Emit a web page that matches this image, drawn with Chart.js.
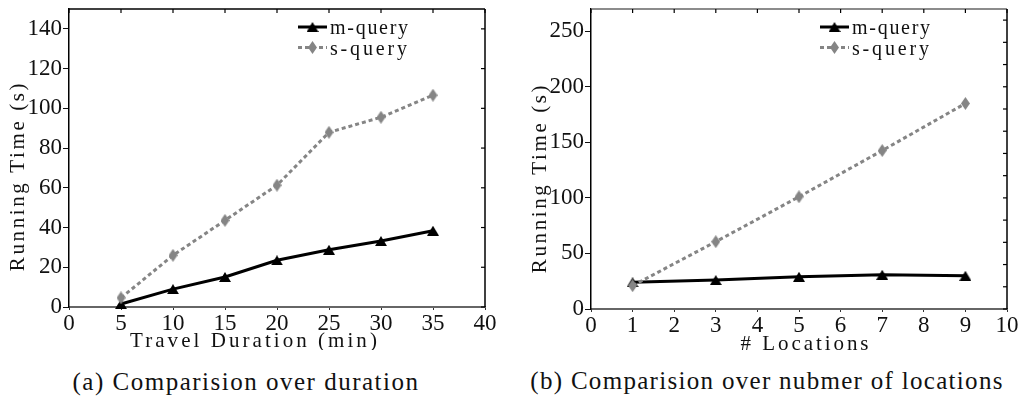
<!DOCTYPE html>
<html><head><meta charset="utf-8">
<script src="https://cdn.jsdelivr.net/npm/chart.js@4.4.1/dist/chart.umd.min.js"></script>
<style>
html,body{margin:0;padding:0;background:#fff;width:1023px;height:407px;overflow:hidden;position:relative}
#wa{position:absolute;left:0;top:0;width:510px;height:350px}
#wb{position:absolute;left:510px;top:0;width:513px;height:350px}
.cap{position:absolute;font-family:"Liberation Serif",serif;font-size:25px;line-height:25px;color:#111;white-space:nowrap;transform:translateX(-50%)}
</style></head><body>
<div id="wa"><canvas id="ca"></canvas></div>
<div id="wb"><canvas id="cb"></canvas></div>
<div class="cap" id="capA" style="left:246px;top:369px;letter-spacing:1.5px">(a) Comparision over duration</div>
<div class="cap" id="capB" style="left:767px;top:368px;letter-spacing:1.3px">(b) Comparision over nubmer of locations</div>
<script>
// ---- data ----
const seriesNames = ['m-query', 's-query'];
const durationMinutes = [5, 10, 15, 20, 25, 30, 35];
const durationMQuery = [1.5, 9.0, 15.1, 23.5, 28.8, 33.2, 38.4];
const durationSQuery = [4.6, 26.0, 43.6, 61.3, 87.9, 95.5, 106.6];
const locationCounts = [1, 3, 5, 7, 9];
const locationMQuery = [24.0, 26.0, 29.0, 30.8, 29.9];
const locationSQuery = [21.0, 60.6, 101.0, 142.6, 185.0];
const durationXTicks = [0, 5, 10, 15, 20, 25, 30, 35, 40];
const durationYTicks = [0, 20, 40, 60, 80, 100, 120, 140];
const locationXTicks = [0, 1, 2, 3, 4, 5, 6, 7, 8, 9, 10];
const locationYTicks = [0, 50, 100, 150, 200, 250];
const titlesA = {x: 'Travel Duration (min)', y: 'Running Time (s)'};
const titlesB = {x: '# Locations', y: 'Running Time (s)'};

// ---- markers ----
function triImg(w, h, color) {
  const c = document.createElement('canvas'); c.width = w; c.height = h;
  const g = c.getContext('2d'); g.fillStyle = color;
  g.beginPath(); g.moveTo(w / 2, 0); g.lineTo(w, h); g.lineTo(0, h); g.closePath(); g.fill();
  return c;
}
function diaImg(w, h, color) {
  const c = document.createElement('canvas'); c.width = w; c.height = h;
  const g = c.getContext('2d'); g.fillStyle = color;
  g.beginPath(); g.moveTo(w / 2, 0); g.lineTo(w, h / 2); g.lineTo(w / 2, h); g.lineTo(0, h / 2); g.closePath(); g.fill();
  return c;
}
const MCOL = '#000000', SCOL = '#858585';
const triMarker = triImg(12, 10, MCOL);
const diaMarker = diaImg(9, 13, SCOL);
const SERIF = '"Liberation Serif", serif';

function pts(xs, ys) { return xs.map((x, i) => ({x: x, y: ys[i]})); }

function datasets(xs, m, s) {
  return [
    {label: seriesNames[0], data: pts(xs, m), borderColor: MCOL, backgroundColor: MCOL, borderWidth: 3,
     pointStyle: triMarker, pointRadius: 6, clip: false, order: 1, tension: 0},
    {label: seriesNames[1], data: pts(xs, s), borderColor: SCOL, backgroundColor: SCOL, borderWidth: 3,
     borderDash: [4, 3], pointStyle: diaMarker, pointRadius: 6, clip: false, order: 0, tension: 0}
  ];
}

// draw text with fixed character pitch (typewriter look) using letter spacing
function pitchText(ctx, text, x, y, pitch, center) {
  ctx.letterSpacing = '0px';
  const w = ctx.measureText(text).width;
  const ls = (pitch * text.length - w) / text.length;
  ctx.letterSpacing = ls.toFixed(2) + 'px';
  const w2 = ctx.measureText(text).width;
  ctx.textAlign = 'left';
  ctx.fillText(text, center ? x - w2 / 2 : x, y);
  ctx.letterSpacing = '0px';
}

const decor = {
  id: 'decor',
  afterDatasetsDraw(chart, args, o) {
    const {ctx, chartArea: a} = chart;
    const x = chart.scales.x, y = chart.scales.y;
    const line = (x1, y1, x2, y2) => { ctx.beginPath(); ctx.moveTo(x1, y1); ctx.lineTo(x2, y2); ctx.stroke(); };
    ctx.save();
    ctx.lineWidth = 1.5;
    ctx.strokeStyle = o.topColor; line(a.left, a.top, a.right, a.top);
    ctx.strokeStyle = '#000'; line(a.right, a.top, a.right, a.bottom);
    ctx.lineWidth = 1.2;
    x.ticks.forEach(t => { const px = x.getPixelForValue(t.value); line(px, a.top, px, a.top + 4); });
    for (let v = 0; v <= y.max; v += o.rightStep) { const py = y.getPixelForValue(v); line(a.right - 4, py, a.right, py); }
    // axis titles
    ctx.fillStyle = '#111'; ctx.font = '21px ' + SERIF;
    ctx.textBaseline = 'middle';
    pitchText(ctx, o.titles.x, o.xTitlePos[0], o.xTitlePos[1], 11.9, true);
    ctx.save(); ctx.translate(o.yTitlePos[0], o.yTitlePos[1]); ctx.rotate(-Math.PI / 2);
    pitchText(ctx, o.titles.y, 0, 0, 11.9, true); ctx.restore();
    // legend
    const lx = a.right - o.legendRight;
    ctx.font = '20px ' + SERIF;
    chart.data.datasets.forEach((ds, i) => {
      const ly = o.legendTop + i * 20.5;
      ctx.strokeStyle = ds.borderColor; ctx.lineWidth = ds.borderWidth;
      ctx.setLineDash(ds.borderDash || []);
      line(lx, ly, lx + 29, ly);
      ctx.setLineDash([]);
      const img = ds.pointStyle;
      ctx.drawImage(img, lx + 14.5 - img.width / 2, ly - img.height / 2);
      ctx.fillStyle = '#111';
      pitchText(ctx, ds.label, lx + 32, ly + 2, 11.4, false);
    });
    ctx.restore();
  }
};

function makeChart(id, cfg) {
  const tickFont = {family: SERIF, size: 23};
  return new Chart(document.getElementById(id), {
    type: 'line',
    data: {datasets: datasets(cfg.xs, cfg.m, cfg.s)},
    plugins: [decor],
    options: {
      responsive: true, maintainAspectRatio: false, animation: false,
      layout: {padding: {left: 0, top: cfg.top, right: cfg.padRight, bottom: 0}},
      plugins: {
        legend: {display: false}, tooltip: {enabled: false},
        decor: cfg.decor
      },
      scales: {
        x: {type: 'linear', min: cfg.xTicks[0], max: cfg.xTicks[cfg.xTicks.length - 1],
            afterBuildTicks: s => { s.ticks = cfg.xTicks.map(v => ({value: v})); },
            ticks: {font: tickFont, color: '#111', padding: 0, maxRotation: 0, autoSkip: false},
            grid: {drawOnChartArea: false, drawTicks: true, tickLength: 3, color: '#333'},
            border: {color: '#666', width: 2},
            afterFit: s => { s.height = 350 - cfg.bottom; s.paddingLeft = 0; s.paddingRight = 0; }},
        y: {type: 'linear', min: 0, max: cfg.yMax,
            afterBuildTicks: s => { s.ticks = cfg.yTicks.map(v => ({value: v})); },
            ticks: {font: tickFont, color: '#111', padding: 1},
            grid: {drawOnChartArea: false, drawTicks: true, tickLength: 6, color: '#111'},
            border: {color: '#000', width: 1.5},
            afterFit: s => { s.width = cfg.left; s.paddingTop = 0; s.paddingBottom = 0; }}
      }
    }
  });
}

function build() {
  makeChart('ca', {
    xs: durationMinutes, m: durationMQuery, s: durationSQuery,
    xTicks: durationXTicks, yTicks: durationYTicks, yMax: 150,
    left: 69, top: 0, bottom: 307, padRight: 25,
    decor: {topColor: '#000', rightStep: 20, titles: titlesA,
            xTitlePos: [255, 341], yTitlePos: [18.5, 176], legendRight: 187, legendTop: 27}
  });
  makeChart('cb', {
    xs: locationCounts, m: locationMQuery, s: locationSQuery,
    xTicks: locationXTicks, yTicks: locationYTicks, yMax: 270,
    left: 81, top: 1, bottom: 309, padRight: 16,
    decor: {topColor: '#666', rightStep: 20, titles: titlesB,
            xTitlePos: [296, 344], yTitlePos: [30, 178], legendRight: 187, legendTop: 27}
  });
}

if (document.fonts && document.fonts.load) {
  document.fonts.load('23px "Liberation Serif"').then(build, build);
} else { build(); }
</script>
</body></html>
